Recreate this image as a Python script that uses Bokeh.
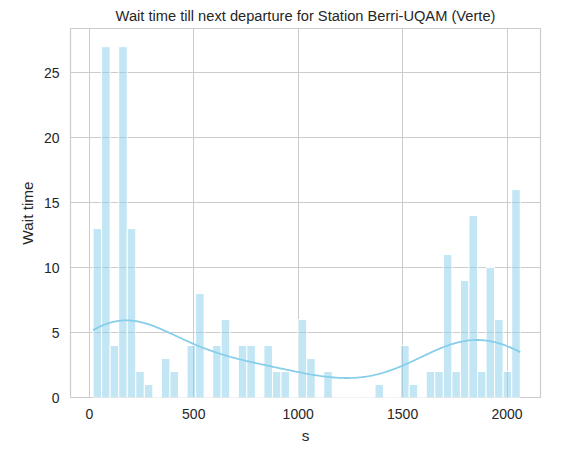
import numpy as np
from bokeh.plotting import figure
from bokeh.models import ColumnDataSource
from bokeh.embed import file_html
from bokeh.resources import INLINE

# histogram bins (s) and counts
bin_start = 18.0
bin_width = 40.9
counts = [13, 27, 4, 27, 13, 2, 1, 0, 3, 2,
          0, 4, 8, 0, 4, 6, 0, 4, 4, 0,
          4, 2, 2, 0, 6, 3, 0, 2, 0, 0,
          0, 0, 0, 1, 0, 0, 4, 1, 0, 2,
          2, 11, 2, 9, 14, 2, 10, 6, 2, 16]
xticks = [0, 500, 1000, 1500, 2000]
yticks = [0, 5, 10, 15, 20, 25]

counts = np.array(counts, dtype=float)
lefts = bin_start + bin_width * np.arange(len(counts))
rights = lefts + bin_width
centers = (lefts + rights) / 2

# kde like seaborn (scott bandwidth), scaled to counts
n = counts.sum()
mean = np.sum(centers * counts) / n
std = np.sqrt(np.sum(counts * (centers - mean) ** 2) / (n - 1))
bw = std * n ** (-1 / 5)
xs = np.linspace(lefts[0], rights[-1], 300)
dens = np.sum(counts[None, :] * np.exp(-0.5 * ((xs[:, None] - centers[None, :]) / bw) ** 2), axis=1)
dens = dens / (n * bw * np.sqrt(2 * np.pi))
kde = dens * n * bin_width

FONT = "Liberation Sans"
TXT = "#262626"

p = figure(width=552, height=446, x_range=(-90, 2160), y_range=(0, 28.4),
           output_backend="svg", toolbar_location=None,
           title="Wait time till next departure for Station Berri-UQAM (Verte)",
           min_border_left=70, min_border_right=12, min_border_top=8, min_border_bottom=42)
p.title.align = "center"
p.title.text_font = FONT
p.title.text_font_size = "11pt"
p.title.text_font_style = "normal"
p.title.text_color = TXT

src = ColumnDataSource(dict(left=lefts, right=rights, top=counts))
p.quad(left="left", right="right", bottom=0, top="top", source=src,
       fill_color="skyblue", fill_alpha=0.5, line_color="white", line_width=1)
p.line(xs, kde, line_color="skyblue", line_width=1.8)

p.xaxis.ticker = xticks
p.yaxis.ticker = yticks
p.xaxis.axis_label = "s"
p.yaxis.axis_label = "Wait time"
for ax in (p.xaxis, p.yaxis):
    ax.axis_label_text_font = FONT
    ax.axis_label_text_font_size = "11.5pt"
    ax.axis_label_text_font_style = "normal"
    ax.axis_label_text_color = TXT
    ax.major_label_text_font = FONT
    ax.major_label_text_font_size = "10.5pt"
    ax.major_label_text_color = TXT
    ax.axis_line_color = None
    ax.major_tick_line_color = None
    ax.minor_tick_line_color = None
p.grid.grid_line_color = "#cccccc"
p.grid.grid_line_width = 1
p.outline_line_color = "#cccccc"
p.outline_line_width = 1.2

open("out.html", "w").write(file_html(p, INLINE))
